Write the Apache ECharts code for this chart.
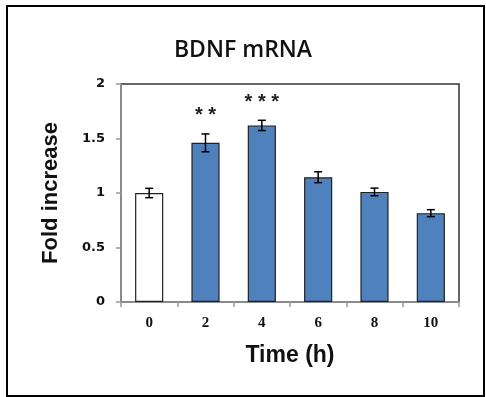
<!DOCTYPE html>
<html>
<head>
<meta charset="utf-8">
<script src="https://cdn.jsdelivr.net/npm/echarts/dist/echarts.min.js"></script>
<style>
html,body{margin:0;padding:0;background:#fff;}
#main{width:486px;height:397px;}
</style>
</head>
<body>
<div id="main"></div>
<script>
// BDNF mRNA 倍数变化
var timeLabels = ["0", "2", "4", "6", "8", "10"];
var foldValues = [1.00, 1.46, 1.62, 1.145, 1.01, 0.815];
var errValues = [0.043, 0.082, 0.047, 0.05, 0.035, 0.032];
var sigLabels = ["", "**", "***", "", "", ""];
var yTicks = [0, 0.5, 1, 1.5, 2];

var chart = echarts.init(document.getElementById("main"));

var barData = foldValues.map(function (v, i) {
    return {
        value: v,
        itemStyle: {
            color: i === 0 ? "#ffffff" : "#4f81bd",
            borderColor: "#222",
            borderWidth: 1.2
        }
    };
});

var errData = foldValues.map(function (v, i) {
    return [i, v - errValues[i], v + errValues[i]];
});

option = {
    backgroundColor: "#fff",
    animation: false,
    title: {
        text: "BDNF mRNA",
        left: "center",
        top: 34,
        textStyle: {
            color: "#111",
            fontSize: 23,
            fontWeight: 600,
            fontFamily: "Open Sans"
        }
    },
    graphic: [{
        type: "rect",
        shape: {x: 7, y: 6, width: 477, height: 390},
        style: {fill: null, stroke: "#000", lineWidth: 2},
        silent: true
    }],
    grid: {
        left: 121,
        top: 84,
        right: 27,
        bottom: 95,
        show: true,
        borderColor: "#333",
        borderWidth: 1.5
    },
    xAxis: {
        type: "category",
        data: timeLabels,
        name: "Time (h)",
        nameLocation: "middle",
        nameGap: 42,
        nameTextStyle: {
            color: "#111",
            fontSize: 23,
            fontWeight: "bold",
            fontFamily: "Liberation Sans"
        },
        axisLine: {lineStyle: {color: "#999", width: 1.5}},
        axisTick: {show: true, inside: false, length: 5, lineStyle: {color: "#999", width: 1.5}},
        axisLabel: {
            margin: 14,
            color: "#111",
            fontSize: 15,
            fontWeight: "bold",
            fontFamily: "Liberation Serif"
        }
    },
    yAxis: {
        type: "value",
        min: 0,
        max: 2,
        interval: 0.5,
        name: "Fold increase",
        nameLocation: "middle",
        nameRotate: 90,
        nameGap: 59,
        nameTextStyle: {
            color: "#111",
            fontSize: 22,
            fontWeight: "bold",
            fontFamily: "Liberation Sans"
        },
        axisLine: {show: true, lineStyle: {color: "#999", width: 1.5}},
        axisTick: {show: true, length: 5, lineStyle: {color: "#999", width: 1.5}},
        splitLine: {show: false},
        axisLabel: {
            margin: 16,
            color: "#111",
            fontSize: 13,
            fontWeight: "bold",
            fontFamily: "DejaVu Sans",
            formatter: function (v) {
                return yTicks.indexOf(v) >= 0 ? String(v) : "";
            }
        }
    },
    series: [{
        name: "BDNF mRNA",
        type: "bar",
        barWidth: "50%",
        data: barData,
        z: 2
    }, {
        name: "error",
        type: "custom",
        data: errData,
        z: 3,
        renderItem: function (params, api) {
            var lo = api.coord([api.value(0), api.value(1)]);
            var hi = api.coord([api.value(0), api.value(2)]);
            var cap = 4;
            var st = {stroke: "#000", lineWidth: 1.5};
            var children = [
                {type: "line", shape: {x1: hi[0], y1: hi[1], x2: lo[0], y2: lo[1]}, style: st},
                {type: "line", shape: {x1: hi[0] - cap, y1: hi[1], x2: hi[0] + cap, y2: hi[1]}, style: st},
                {type: "line", shape: {x1: lo[0] - cap, y1: lo[1], x2: lo[0] + cap, y2: lo[1]}, style: st}
            ];
            var sig = sigLabels[params.dataIndex];
            if (sig) {
                children.push({
                    type: "text",
                    style: {
                        text: sig.split("").join(" "),
                        x: hi[0],
                        y: hi[1] - 18,
                        align: "center",
                        verticalAlign: "middle",
                        font: "bold 20px 'Liberation Sans'",
                        fill: "#222"
                    }
                });
            }
            return {type: "group", children: children};
        }
    }]
};
chart.setOption(option);
</script>
</body>
</html>
